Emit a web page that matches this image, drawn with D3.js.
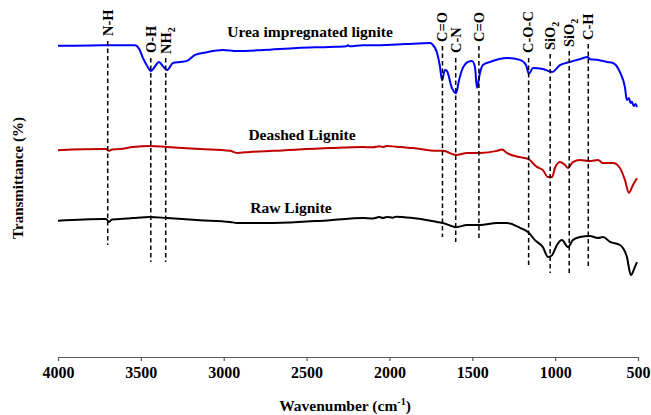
<!DOCTYPE html>
<html>
<head>
<meta charset="utf-8">
<script src="https://cdn.jsdelivr.net/npm/d3@7"></script>
<style>
  body { margin: 0; background: #fff; }
  svg { display: block; font-family: "Times New Roman", "Liberation Serif", serif; font-weight: bold; }
</style>
</head>
<body>
<script>
// FTIR spectra: [wavenumber cm-1, transmittance (offset, a.u.)]
const urea = [
  [4000, 88.9], [3800, 89.0], [3600, 89.1], [3535, 89.1], [3510, 88.0], [3487, 85.4],
  [3460, 83.0], [3439, 81.7], [3415, 83.0], [3391, 84.3], [3365, 83.0], [3342, 82.0],
  [3306, 84.0], [3264, 84.3], [3222, 84.6], [3173, 86.3], [3101, 87.1], [3004, 87.7],
  [2920, 87.4], [2763, 87.7], [2558, 88.3], [2359, 88.6], [2260, 88.8], [2250, 89.1],
  [2240, 88.8], [2160, 89.1], [2057, 89.1], [1906, 89.4], [1755, 89.7], [1743, 89.4],
  [1713, 86.9], [1695, 83.0], [1683, 79.1], [1665, 82.0], [1653, 81.7], [1623, 76.9],
  [1598, 75.4], [1580, 79.1], [1562, 82.0], [1526, 84.3], [1502, 84.6], [1484, 82.9],
  [1472, 76.9], [1454, 81.1], [1436, 83.4], [1393, 84.3], [1291, 85.4], [1212, 84.9],
  [1176, 83.4], [1158, 80.9], [1134, 82.6], [1074, 82.3], [1019, 81.4], [971, 83.4],
  [911, 84.3], [850, 85.1], [802, 85.7], [790, 85.1], [748, 84.9], [687, 84.3],
  [651, 84.0], [609, 81.4], [579, 77.1], [567, 73.4], [555, 74.0], [545, 72.6],
  [537, 72.9], [525, 71.7], [515, 72.3], [506, 71.4]
]

const deashed = [
  [4000, 59.1], [3728, 59.4], [3710, 59.4], [3692, 58.9], [3674, 59.3], [3626, 59.4],
  [3547, 60.0], [3445, 60.3], [3342, 60.0], [3143, 59.4], [2962, 58.9], [2920, 58.3],
  [2841, 58.6], [2703, 58.9], [2359, 59.7], [2160, 60.0], [2100, 59.9], [2060, 60.2],
  [2040, 60.0], [2015, 60.3], [1960, 60.1], [1858, 59.7], [1713, 58.9], [1677, 58.9],
  [1598, 57.7], [1532, 58.3], [1454, 58.3], [1351, 58.9], [1320, 59.3], [1291, 58.3],
  [1212, 57.1], [1164, 56.6], [1110, 54.3], [1074, 53.4], [1043, 51.4], [1019, 51.4],
  [1001, 54.0], [971, 55.7], [941, 54.9], [923, 54.0], [893, 55.7], [850, 56.3],
  [790, 56.0], [742, 56.3], [711, 55.4], [651, 55.4], [609, 54.0], [579, 50.6],
  [555, 46.9], [531, 49.1], [506, 51.1]
]

const raw = [
  [4000, 38.9], [3728, 39.4], [3710, 39.4], [3692, 38.6], [3674, 39.3], [3626, 39.4],
  [3547, 39.7], [3445, 40.0], [3342, 39.7], [3143, 39.1], [2962, 38.6], [2920, 38.3],
  [2841, 38.3], [2703, 38.3], [2359, 39.1], [2160, 39.7], [2100, 39.6], [2060, 40.0],
  [2040, 39.7], [2015, 40.0], [1980, 39.8], [1960, 40.1], [1858, 39.7], [1713, 38.6],
  [1677, 38.3], [1598, 37.1], [1532, 37.7], [1454, 37.7], [1351, 38.3], [1291, 38.3],
  [1212, 36.9], [1164, 35.7], [1122, 33.4], [1074, 31.4], [1043, 28.6], [1019, 29.1],
  [989, 32.0], [959, 33.4], [923, 31.4], [893, 33.4], [850, 34.3], [790, 34.6],
  [742, 34.0], [711, 34.3], [669, 32.9], [609, 32.0], [567, 28.6], [543, 23.4],
  [519, 25.7], [506, 27.1]
]

const seriesNames = ['Urea impregnated lignite', 'Deashed Lignite', 'Raw Lignite']
const seriesColors = ['#0000ff', '#c00000', '#000000']

const peakWave = [3700, 3440, 3350, 1680, 1600, 1460, 1160, 1030, 915, 800]
const peakLabels = ['N-H', 'O-H', 'NH2', 'C=O', 'C-N', 'C=O', 'C-O-C', 'SiO2', 'SiO2', 'C-H']

const xTicks = [4000, 3500, 3000, 2500, 2000, 1500, 1000, 500]

// layout (pixels)
const width = 651
const height = 415
const margin = { top: 7, right: 13, bottom: 58, left: 58 }
const peakLabelBase = [36, 53, 54, 42, 53, 42, 53, 50, 47, 40]
const peakLineTop = [41, 58, 58, 46, 58, 46, 58, 54, 51, 44]
const peakLineBottom = [245, 262, 262, 237, 242, 240, 268, 273, 273, 268]
const seriesLabelPos = [[310, 37], [302, 140], [291, 213]]

const svg = d3.select('body').append('svg')
  .attr('width', width)
  .attr('height', height)

const x = d3.scaleLinear()
  .domain([4000, 500])
  .range([margin.left, width - margin.right])

const y = d3.scaleLinear()
  .domain([0, 100])
  .range([height - margin.bottom, margin.top])

// x axis
const xAxis = svg.append('g')
  .attr('transform', `translate(0, ${height - margin.bottom})`)
  .call(d3.axisBottom(x)
    .tickValues(xTicks)
    .tickFormat(d3.format('d'))
    .tickSize(4)
    .tickSizeOuter(0)
    .tickPadding(6))

xAxis.select('.domain').attr('stroke', '#595959').attr('stroke-width', 1.2)
xAxis.selectAll('.tick line').attr('stroke', '#595959').attr('stroke-width', 1.2)
xAxis.selectAll('.tick text')
  .attr('fill', '#000')
  .style('font-family', '"Times New Roman", "Liberation Serif", serif')
  .style('font-weight', 'bold')
  .style('font-size', '16px')

// axis titles
const xTitle = svg.append('text')
  .attr('x', 345)
  .attr('y', 411)
  .attr('text-anchor', 'middle')
  .style('font-size', '15.5px')
xTitle.append('tspan').text('Wavenumber (cm')
xTitle.append('tspan').attr('dy', -6).style('font-size', '10px').text('-1')
xTitle.append('tspan').attr('dy', 6).text(')')

svg.append('text')
  .attr('transform', 'translate(23, 178) rotate(-90)')
  .attr('text-anchor', 'middle')
  .style('font-size', '15px')
  .text('Transmittance (%)')

// spectra
const line = d3.line()
  .x(d => x(d[0]))
  .y(d => y(d[1]))
  .curve(d3.curveMonotoneX)

const spectra = [urea, deashed, raw]

svg.append('g')
  .selectAll('path')
  .data(spectra)
  .enter()
  .append('path')
  .attr('d', d => line(d))
  .attr('fill', 'none')
  .attr('stroke', (d, i) => seriesColors[i])
  .attr('stroke-width', 2)
  .attr('stroke-linejoin', 'round')

// dashed peak markers
svg.append('g')
  .selectAll('line')
  .data(peakWave)
  .enter()
  .append('line')
  .attr('x1', d => x(d))
  .attr('x2', d => x(d))
  .attr('y1', (d, i) => peakLineTop[i])
  .attr('y2', (d, i) => peakLineBottom[i])
  .attr('stroke', '#000')
  .attr('stroke-width', 1.5)
  .attr('stroke-dasharray', '4.5,3')

// peak labels, rotated
const peakText = svg.append('g')
  .selectAll('text')
  .data(peakWave)
  .enter()
  .append('text')
  .attr('transform', (d, i) => `translate(${x(d)}, ${peakLabelBase[i]}) rotate(-90)`)
  .attr('dy', '0.33em')
  .style('font-size', '14.5px')

peakText.each(function (d, i) {
  const t = d3.select(this)
  const lab = peakLabels[i]
  if (lab.endsWith('2')) {
    t.append('tspan').text(lab.slice(0, -1))
    t.append('tspan').attr('dy', 4).style('font-size', '10px').text('2')
  } else {
    t.text(lab)
  }
})

// series labels
svg.append('g')
  .selectAll('text')
  .data(seriesNames)
  .enter()
  .append('text')
  .attr('x', (d, i) => seriesLabelPos[i][0])
  .attr('y', (d, i) => seriesLabelPos[i][1])
  .attr('text-anchor', 'middle')
  .style('font-size', '15.5px')
  .text(d => d)
</script>
</body>
</html>
